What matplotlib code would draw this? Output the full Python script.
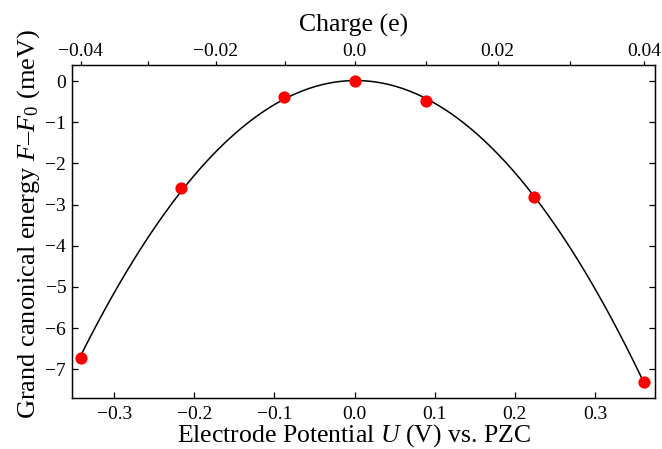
#!/usr/bin/env python3

import matplotlib

matplotlib.use("Agg")
import matplotlib.pyplot as plt
import numpy as np
from matplotlib.ticker import MultipleLocator

# values
charge = [-0.04, -0.025, -0.01, 0.0, 0.01, 0.025, 0.04]
potential = [-0.3416, -0.2163, -0.0875, 0.0, 0.089, 0.224, 0.3616]
energy = [-6.72, -2.60, -0.39, 0.0, -0.49, -2.81, -7.31]

charge_major = [-0.04, -0.02, 0.0, 0.02, 0.04]
charge_minor = [-0.03, -0.01, 0.01, 0.03]
charge_labels = ["\u22120.04", "\u22120.02", "0.0", "0.02", "0.04"]

plt.rcParams["font.family"] = ["Liberation Serif", "DejaVu Serif"]
plt.rcParams["mathtext.fontset"] = "custom"
plt.rcParams["mathtext.rm"] = "Liberation Serif"
plt.rcParams["mathtext.it"] = "Liberation Serif:italic"
plt.rcParams["axes.linewidth"] = 0.9

# quadratic relation between charge and potential for the top axis
qa, qb, qc = np.polyfit(charge, potential, 2)


def q_to_u(q):
    q = np.asarray(q, dtype=float)
    return qa * q**2 + qb * q + qc


fig = plt.figure(figsize=(6.62, 4.49), dpi=100)
ax = fig.add_axes([0.1083, 0.1142, 0.8811, 0.741])

# fitted parabola through the points
coef = np.polyfit(potential, energy, 2)
u_fine = np.linspace(min(potential), max(potential), 300)
ax.plot(u_fine, np.polyval(coef, u_fine), color="black", linewidth=1.1, zorder=2)
ax.plot(potential, energy, "o", color="#ff0000", markersize=8.8,
        markeredgewidth=0, zorder=3)

ax.set_xlim(-0.353, 0.375)
ax.set_ylim(-7.69, 0.39)
ax.xaxis.set_major_locator(MultipleLocator(0.1))
ax.yaxis.set_major_locator(MultipleLocator(1))
ax.tick_params(axis="x", direction="in", top=True, length=4, width=0.9,
               labelsize=14, pad=6)
ax.tick_params(axis="y", direction="in", right=True, length=4, width=0.9,
               labelsize=14, pad=4)
ax.set_xticklabels([f"{v:.1f}".replace("-", "\u2212") for v in ax.get_xticks()])

ax.set_xlabel(r"Electrode Potential $U$ (V) vs. PZC", fontsize=18.5, labelpad=-0.5)
ax.xaxis.label.set_x(0.484)
ax.set_ylabel(r"Grand canonical energy $F$–$F_0$ (meV)", fontsize=19, labelpad=2)
ax.yaxis.label.set_y(0.522)

# top charge axis placed in potential coordinates
top = ax.twiny()
top.set_xlim(ax.get_xlim())
top.set_xticks(q_to_u(charge_major))
top.set_xticklabels(charge_labels)
top.set_xticks(q_to_u(charge_minor), minor=True)
top.tick_params(which="both", direction="out", length=3, width=0.9,
                labelsize=14, pad=0.5)
top.set_xlabel("Charge (e)", fontsize=18.5, labelpad=8)
top.xaxis.label.set_x(0.484)

fig.savefig("out.png", dpi=100)
